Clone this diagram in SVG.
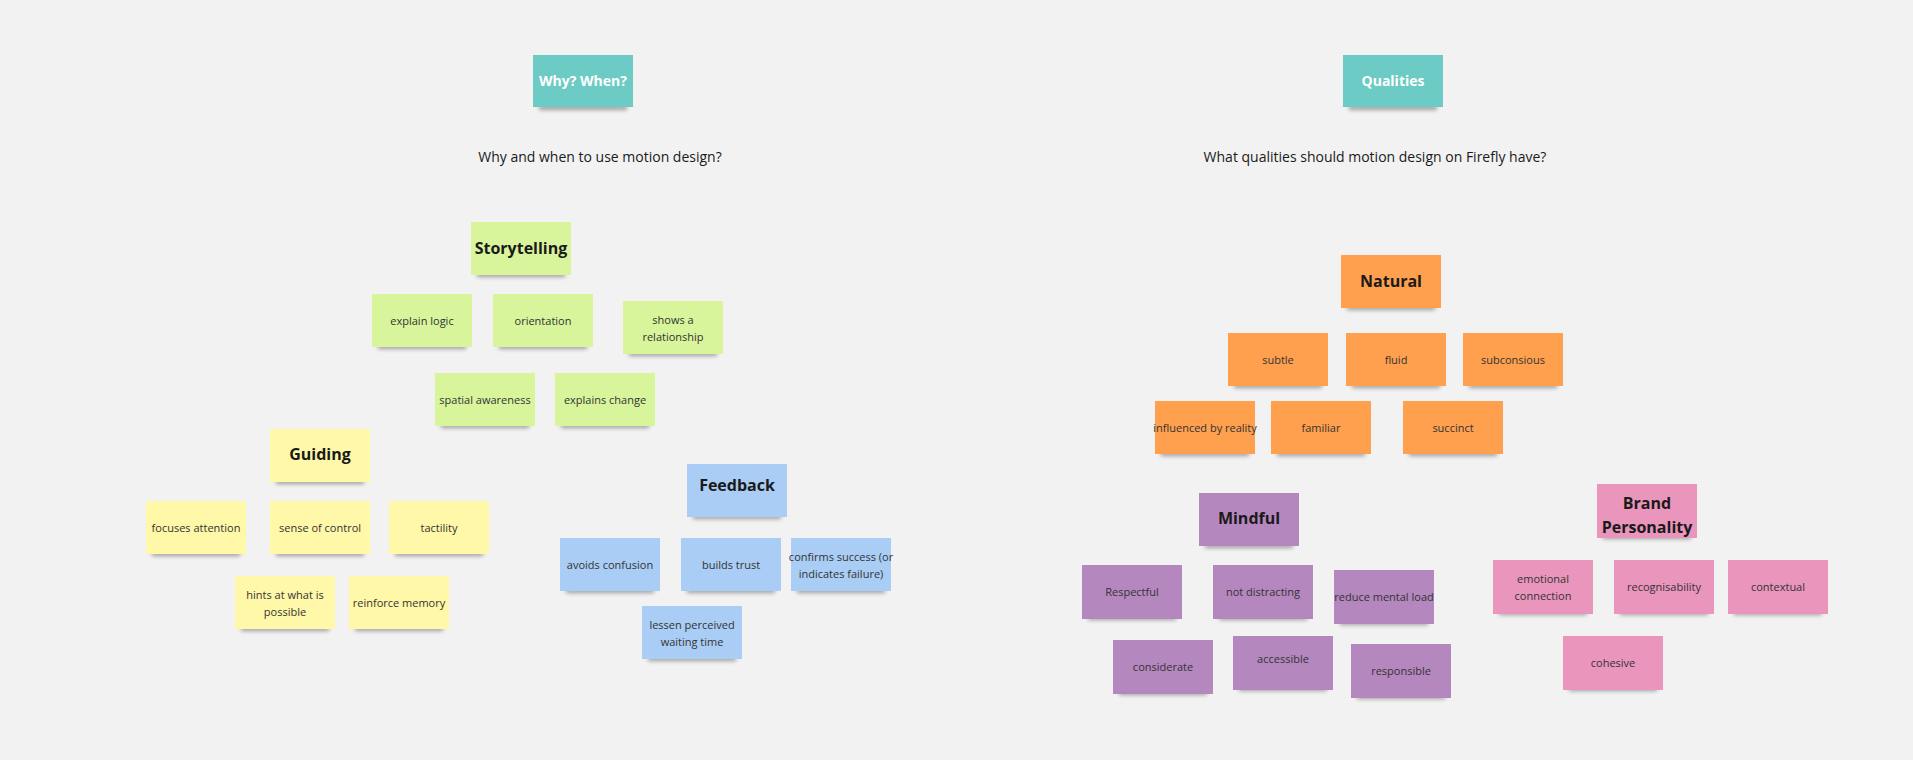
<svg xmlns="http://www.w3.org/2000/svg" width="1913" height="760" viewBox="0 0 1913 760">
<style>
.n rect.s{fill:#000;opacity:.35;filter:url(#bl)}
.t{font-family:"Open Sans","Liberation Sans",sans-serif;font-size:11px;fill:#333;text-anchor:middle}
.h{font-family:"Open Sans","Liberation Sans",sans-serif;font-size:16px;font-weight:bold;fill:#1a1a1a;text-anchor:middle}
.w{font-family:"Open Sans","Liberation Sans",sans-serif;font-size:14px;font-weight:bold;fill:#fff;text-anchor:middle}
.q{font-family:"Open Sans","Liberation Sans",sans-serif;font-size:14px;fill:#1a1a1a;text-anchor:middle}
.teal{fill:#6CCBC4}.g{fill:#D8F59C}.y{fill:#FFF8A8}.b{fill:#A9CDF4}.o{fill:#FFA04E}.p{fill:#B587BF}.k{fill:#EA95BC}
</style>
<defs><filter id="bl" x="-20%" y="-200%" width="140%" height="500%"><feGaussianBlur stdDeviation="2"/></filter></defs>
<rect width="1913" height="760" fill="#F2F2F2"/>
<g id="connectors"></g>
<text class="q" x="600" y="162">Why and when to use motion design?</text>
<text class="q" x="1375" y="162">What qualities should motion design on Firefly have?</text>

<g id="why" class="n" transform="translate(533,55)"><rect class="s" x="6" y="50" width="88" height="5"/><rect class="teal" width="100" height="52"/><text class="w" x="50" y="31">Why? When?</text></g>
<g id="storytelling" class="n" transform="translate(471,222)"><rect class="s" x="6" y="50" width="88" height="5"/><rect class="g" width="100" height="53"/><text class="h" x="50" y="32">Storytelling</text></g>
<g id="explain-logic" class="n" transform="translate(372,294)"><rect class="s" x="6" y="50" width="88" height="5"/><rect class="g" width="100" height="53"/><text class="t" x="50" y="31">explain logic</text></g>
<g id="orientation" class="n" transform="translate(493,294)"><rect class="s" x="6" y="50" width="88" height="5"/><rect class="g" width="100" height="53"/><text class="t" x="50" y="31">orientation</text></g>
<g id="shows" class="n" transform="translate(623,301)"><rect class="s" x="6" y="50" width="88" height="5"/><rect class="g" width="100" height="53"/><text class="t" x="50" y="23">shows a</text><text class="t" x="50" y="40">relationship</text></g>
<g id="spatial" class="n" transform="translate(435,373)"><rect class="s" x="6" y="50" width="88" height="5"/><rect class="g" width="100" height="53"/><text class="t" x="50" y="31">spatial awareness</text></g>
<g id="explains-change" class="n" transform="translate(555,373)"><rect class="s" x="6" y="50" width="88" height="5"/><rect class="g" width="100" height="53"/><text class="t" x="50" y="31">explains change</text></g>

<g id="guiding" class="n" transform="translate(270,429)"><rect class="s" x="6" y="50" width="88" height="5"/><rect class="y" width="100" height="53"/><text class="h" x="50" y="31">Guiding</text></g>
<g id="focuses" class="n" transform="translate(146,501)"><rect class="s" x="6" y="50" width="88" height="5"/><rect class="y" width="100" height="53"/><text class="t" x="50" y="31">focuses attention</text></g>
<g id="sense" class="n" transform="translate(270,501)"><rect class="s" x="6" y="50" width="88" height="5"/><rect class="y" width="100" height="53"/><text class="t" x="50" y="31">sense of control</text></g>
<g id="tactility" class="n" transform="translate(389,501)"><rect class="s" x="6" y="50" width="88" height="5"/><rect class="y" width="100" height="53"/><text class="t" x="50" y="31">tactility</text></g>
<g id="hints" class="n" transform="translate(235,576)"><rect class="s" x="6" y="50" width="88" height="5"/><rect class="y" width="100" height="53"/><text class="t" x="50" y="23">hints at what is</text><text class="t" x="50" y="40">possible</text></g>
<g id="reinforce" class="n" transform="translate(349,576)"><rect class="s" x="6" y="50" width="88" height="5"/><rect class="y" width="100" height="53"/><text class="t" x="50" y="31">reinforce memory</text></g>

<g id="feedback" class="n" transform="translate(687,464)"><rect class="s" x="6" y="50" width="88" height="5"/><rect class="b" width="100" height="53"/><text class="h" x="50" y="27">Feedback</text></g>
<g id="avoids" class="n" transform="translate(560,538)"><rect class="s" x="6" y="50" width="88" height="5"/><rect class="b" width="100" height="53"/><text class="t" x="50" y="31">avoids confusion</text></g>
<g id="trust" class="n" transform="translate(681,538)"><rect class="s" x="6" y="50" width="88" height="5"/><rect class="b" width="100" height="53"/><text class="t" x="50" y="31">builds trust</text></g>
<g id="confirms" class="n" transform="translate(791,538)"><rect class="s" x="6" y="50" width="88" height="5"/><rect class="b" width="100" height="53"/><text class="t" x="50" y="23">confirms success (or</text><text class="t" x="50" y="40">indicates failure)</text></g>
<g id="lessen" class="n" transform="translate(642,606)"><rect class="s" x="6" y="50" width="88" height="5"/><rect class="b" width="100" height="53"/><text class="t" x="50" y="23">lessen perceived</text><text class="t" x="50" y="40">waiting time</text></g>

<g id="qualities" class="n" transform="translate(1343,55)"><rect class="s" x="6" y="50" width="88" height="5"/><rect class="teal" width="100" height="52"/><text class="w" x="50" y="31">Qualities</text></g>
<g id="natural" class="n" transform="translate(1341,255)"><rect class="s" x="6" y="50" width="88" height="5"/><rect class="o" width="100" height="53"/><text class="h" x="50" y="32">Natural</text></g>
<g id="subtle" class="n" transform="translate(1228,333)"><rect class="s" x="6" y="50" width="88" height="5"/><rect class="o" width="100" height="53"/><text class="t" x="50" y="31">subtle</text></g>
<g id="fluid" class="n" transform="translate(1346,333)"><rect class="s" x="6" y="50" width="88" height="5"/><rect class="o" width="100" height="53"/><text class="t" x="50" y="31">fluid</text></g>
<g id="subconsious" class="n" transform="translate(1463,333)"><rect class="s" x="6" y="50" width="88" height="5"/><rect class="o" width="100" height="53"/><text class="t" x="50" y="31">subconsious</text></g>
<g id="influenced" class="n" transform="translate(1155,401)"><rect class="s" x="6" y="50" width="88" height="5"/><rect class="o" width="100" height="53"/><text class="t" x="50" y="31">influenced by reality</text></g>
<g id="familiar" class="n" transform="translate(1271,401)"><rect class="s" x="6" y="50" width="88" height="5"/><rect class="o" width="100" height="53"/><text class="t" x="50" y="31">familiar</text></g>
<g id="succinct" class="n" transform="translate(1403,401)"><rect class="s" x="6" y="50" width="88" height="5"/><rect class="o" width="100" height="53"/><text class="t" x="50" y="31">succinct</text></g>

<g id="mindful" class="n" transform="translate(1199,493)"><rect class="s" x="6" y="50" width="88" height="5"/><rect class="p" width="100" height="53"/><text class="h" x="50" y="31">Mindful</text></g>
<g id="respectful" class="n" transform="translate(1082,565)"><rect class="s" x="6" y="50" width="88" height="5"/><rect class="p" width="100" height="54"/><text class="t" x="50" y="31">Respectful</text></g>
<g id="not-distracting" class="n" transform="translate(1213,565)"><rect class="s" x="6" y="50" width="88" height="5"/><rect class="p" width="100" height="54"/><text class="t" x="50" y="31">not distracting</text></g>
<g id="reduce" class="n" transform="translate(1334,570)"><rect class="s" x="6" y="50" width="88" height="5"/><rect class="p" width="100" height="54"/><text class="t" x="50" y="31">reduce mental load</text></g>
<g id="considerate" class="n" transform="translate(1113,640)"><rect class="s" x="6" y="50" width="88" height="5"/><rect class="p" width="100" height="54"/><text class="t" x="50" y="31">considerate</text></g>
<g id="accessible" class="n" transform="translate(1233,636)"><rect class="s" x="6" y="50" width="88" height="5"/><rect class="p" width="100" height="54"/><text class="t" x="50" y="27">accessible</text></g>
<g id="responsible" class="n" transform="translate(1351,644)"><rect class="s" x="6" y="50" width="88" height="5"/><rect class="p" width="100" height="54"/><text class="t" x="50" y="31">responsible</text></g>

<g id="brand" class="n" transform="translate(1597,484)"><rect class="s" x="6" y="50" width="88" height="5"/><rect class="k" width="100" height="54"/><text class="h" x="50" y="25">Brand</text><text class="h" x="50" y="49">Personality</text></g>
<g id="emotional" class="n" transform="translate(1493,560)"><rect class="s" x="6" y="50" width="88" height="5"/><rect class="k" width="100" height="54"/><text class="t" x="50" y="23">emotional</text><text class="t" x="50" y="40">connection</text></g>
<g id="recognisability" class="n" transform="translate(1614,560)"><rect class="s" x="6" y="50" width="88" height="5"/><rect class="k" width="100" height="54"/><text class="t" x="50" y="31">recognisability</text></g>
<g id="contextual" class="n" transform="translate(1728,560)"><rect class="s" x="6" y="50" width="88" height="5"/><rect class="k" width="100" height="54"/><text class="t" x="50" y="31">contextual</text></g>
<g id="cohesive" class="n" transform="translate(1563,636)"><rect class="s" x="6" y="50" width="88" height="5"/><rect class="k" width="100" height="54"/><text class="t" x="50" y="31">cohesive</text></g>
</svg>
